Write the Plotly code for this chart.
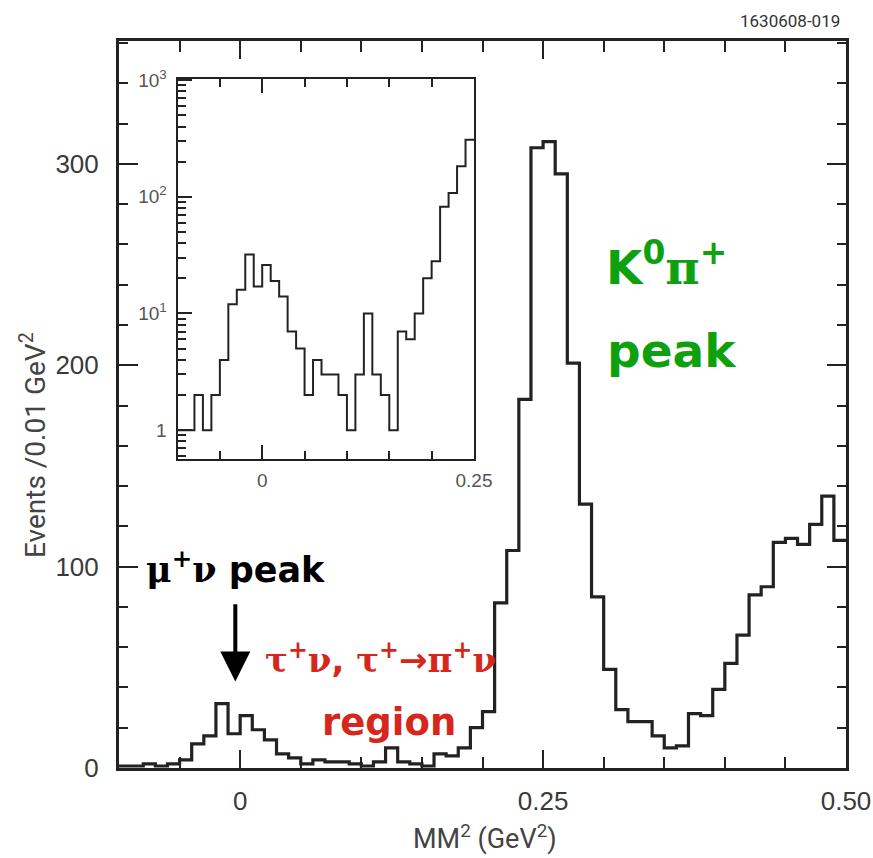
import numpy as np
import plotly.graph_objects as go

# Missing-mass-squared histogram, 0.01 GeV^2 bins from -0.10 to 0.50 GeV^2
bin_width = 0.01
bin_low = np.round(np.arange(-0.10, 0.50, bin_width), 2)
counts = [
    1, 1, 2, 1, 2, 4, 12, 16, 32, 17,          # -0.10 .. -0.01
    26, 19, 14, 7, 5, 2, 4, 3, 3, 2,           #  0.00 .. 0.09
    1, 3, 10, 3, 2, 1, 7, 6, 10, 20,           #  0.10 .. 0.19
    28, 82, 108, 183, 308, 311, 295, 201, 131, 85,  # 0.20 .. 0.29
    49, 29, 23, 23, 16, 10, 11, 27, 26, 39,    #  0.30 .. 0.39
    52, 66, 86, 90, 112, 114, 111, 121, 135, 113,  # 0.40 .. 0.49
]

main_xticks = [0, 0.25, 0.5]
main_xticktext = ["0", "0.25", "0.50"]
main_yticks = [0, 100, 200, 300]
inset_xmax = 0.25
inset_xticks = [0, 0.25]
inset_xticktext = ["0", "0.25"]
inset_yticks = [1, 10, 100, 1000]
inset_yticktext = ["1", "10<sup>1</sup>", "10<sup>2</sup>", "10<sup>3</sup>"]

W, H = 873, 858


def fx(px):
    return px / W


def fy(py):
    return 1 - py / H


edges = list(bin_low) + [round(bin_low[-1] + bin_width, 2)]
step_y = counts + [counts[-1]]

n_in = int(round((inset_xmax - bin_low[0]) / bin_width))
in_edges = edges[: n_in + 1]
in_y = counts[:n_in] + [counts[n_in - 1]]

INK = "#222222"
fig = go.Figure()
fig.add_trace(go.Scatter(x=edges, y=step_y, mode="lines",
                         line=dict(shape="hv", color=INK, width=3.2),
                         xaxis="x", yaxis="y", hoverinfo="skip"))
fig.add_trace(go.Scatter(x=in_edges, y=in_y, mode="lines",
                         line=dict(shape="hv", color=INK, width=2),
                         xaxis="x2", yaxis="y2", hoverinfo="skip"))

tick_font = dict(family="Liberation Sans, Arial, sans-serif", size=26, color="#3a3a3a")
inset_font = dict(family="Liberation Sans, Arial, sans-serif", size=19, color="#555555")

fig.update_layout(
    width=W, height=H,
    margin=dict(l=0, r=0, t=0, b=0, autoexpand=False),
    paper_bgcolor="white", plot_bgcolor="white",
    showlegend=False,
    xaxis=dict(
        domain=[fx(119), fx(846)], range=[-0.1, 0.5], anchor="y",
        tickmode="array", tickvals=main_xticks, ticktext=main_xticktext,
        ticks="inside", ticklen=18, tickwidth=2, tickcolor=INK,
        minor=dict(tickvals=[-0.05, 0.05, 0.1, 0.15, 0.2, 0.3, 0.35, 0.4, 0.45],
                   ticks="inside", ticklen=11, tickwidth=2, tickcolor=INK),
        showline=True, linewidth=3, linecolor=INK, mirror="ticks",
        showgrid=False, zeroline=False, tickfont=tick_font, ticklabelstandoff=8,
        automargin=False,
    ),
    yaxis=dict(
        domain=[fy(768), fy(41)], range=[0, 361], anchor="x",
        tickmode="array", tickvals=main_yticks,
        ticks="inside", ticklen=19, tickwidth=2, tickcolor=INK,
        minor=dict(tickvals=[v for v in range(20, 361, 20) if v % 100],
                   ticks="inside", ticklen=9, tickwidth=2, tickcolor=INK),
        showline=True, linewidth=3, linecolor=INK, mirror="ticks",
        showgrid=False, zeroline=False, tickfont=tick_font, ticklabelstandoff=12,
        automargin=False,
    ),
    xaxis2=dict(
        domain=[fx(177.5), fx(474)], range=[-0.1, inset_xmax], anchor="y2",
        tickmode="array", tickvals=inset_xticks, ticktext=inset_xticktext,
        ticks="inside", ticklen=14, tickwidth=1.5, tickcolor=INK,
        minor=dict(tickvals=[-0.05, 0.05, 0.1, 0.15, 0.2],
                   ticks="inside", ticklen=8, tickwidth=1.5, tickcolor=INK),
        showline=True, linewidth=2, linecolor=INK, mirror="ticks",
        showgrid=False, zeroline=False, tickfont=inset_font, ticklabelstandoff=4,
        automargin=False,
    ),
    yaxis2=dict(
        domain=[fy(458.5), fy(78.5)], type="log", range=[-0.243, 3.014], anchor="x2",
        tickmode="array", tickvals=inset_yticks, ticktext=inset_yticktext,
        ticks="inside", ticklen=14, tickwidth=1.5, tickcolor=INK,
        minor=dict(tickvals=[0.6, 0.7, 0.8, 0.9]
                   + [m * d for d in (1, 10, 100) for m in range(2, 10)],
                   ticks="inside", ticklen=8, tickwidth=1.5, tickcolor=INK),
        showline=True, linewidth=2, linecolor=INK, mirror=True,
        showgrid=False, zeroline=False, tickfont=inset_font, ticklabelstandoff=5,
        automargin=False,
    ),
)

ann = []
# axis titles
title_font = dict(family="Roboto, Liberation Sans, sans-serif", size=27, color="#444444")
ann.append(dict(x=fx(485), y=fy(837), xref="paper", yref="paper",
                text="MM<sup>2</sup> (GeV<sup>2</sup>)", showarrow=False,
                font=title_font, xanchor="center", yanchor="middle"))
ann.append(dict(x=fx(33), y=fy(445), xref="paper", yref="paper",
                text="Events /0.01 GeV<sup>2</sup>", showarrow=False, textangle=-90,
                font=dict(title_font, size=28), xanchor="center", yanchor="middle"))
# figure id
ann.append(dict(x=fx(790), y=fy(21), xref="paper", yref="paper", text="1630608-019",
                showarrow=False, xanchor="center", yanchor="middle",
                font=dict(family="Roboto, Liberation Sans, sans-serif", size=17, color="#333333")))

LBL = "DejaVu Sans, sans-serif"
GREEK = "font-family:'DejaVu Serif', serif"
RED = "#d7261b"
GREEN = "#0ea00e"
ann.append(dict(x=fx(236), y=fy(567), xref="paper", yref="paper",
                text=f"<b><span style=\"{GREEK}\">μ<sup>+</sup>ν</span> peak</b>",
                showarrow=False, font=dict(family=LBL, size=35, color="black"),
                xanchor="center", yanchor="middle"))
ann.append(dict(x=-0.004, y=43, xref="x", yref="y", ax=-0.004, ay=82, axref="x", ayref="y",
                text="", showarrow=True, arrowhead=2, arrowsize=1.5, arrowwidth=4,
                arrowcolor="black"))
ann.append(dict(x=fx(380), y=fy(658), xref="paper", yref="paper",
                text=f"<b><span style=\"{GREEK}\">τ<sup>+</sup>ν</span>, "
                     f"<span style=\"{GREEK}\">τ<sup>+</sup></span>→"
                     f"<span style=\"{GREEK}\">π<sup>+</sup>ν</span></b>",
                showarrow=False, font=dict(family=LBL, size=34, color=RED),
                xanchor="center", yanchor="middle"))
ann.append(dict(x=fx(389), y=fy(722), xref="paper", yref="paper", text="<b>region</b>",
                showarrow=False, font=dict(family=LBL, size=37, color=RED),
                xanchor="center", yanchor="middle"))
ann.append(dict(x=fx(666), y=fy(264), xref="paper", yref="paper",
                text=f"<b>K<sup>0</sup><span style=\"{GREEK}\">π</span><sup>+</sup></b>",
                showarrow=False, font=dict(family=LBL, size=47, color=GREEN),
                xanchor="center", yanchor="middle"))
ann.append(dict(x=fx(672), y=fy(350), xref="paper", yref="paper", text="<b>peak</b>",
                showarrow=False, font=dict(family=LBL, size=47, color=GREEN),
                xanchor="center", yanchor="middle"))
fig.update_layout(annotations=ann)

fig.write_html(
    "out.html",
    post_script="document.body.style.margin='0px';"
                "document.documentElement.style.overflow='hidden';",
)
